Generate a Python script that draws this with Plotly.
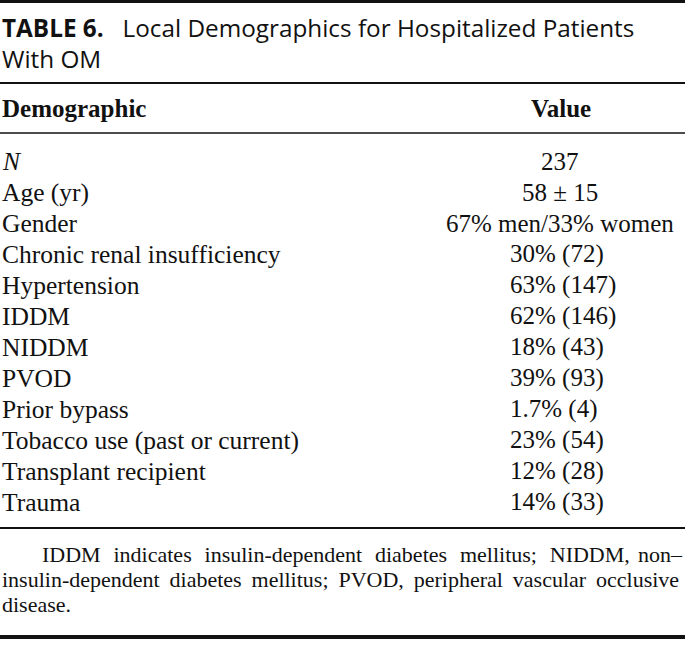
import plotly.graph_objects as go

# ---- data ----
title_label = "TABLE 6."
title_text = "Local Demographics for Hospitalized Patients"
title_text2 = "With OM"
col_headers = ["Demographic", "Value"]
demographics = [
    "<i>N</i>", "Age (yr)", "Gender", "Chronic renal insufficiency", "Hypertension",
    "IDDM", "NIDDM", "PVOD", "Prior bypass", "Tobacco use (past or current)",
    "Transplant recipient", "Trauma",
]
values = [
    "237", "58 ± 15", "67% men/33% women", "30% (72)", "63% (147)",
    "62% (146)", "18% (43)", "39% (93)", "1.7% (4)", "23% (54)",
    "12% (28)", "14% (33)",
]
footnote_lines = [
    "IDDM indicates insulin-dependent diabetes mellitus; NIDDM, non–",
    "insulin-dependent diabetes mellitus; PVOD, peripheral vascular occlusive",
    "disease.",
]

# ---- layout constants ----
W, H = 685, 646
SERIF = "Liberation Serif, Times New Roman, serif"
SANS = "Open Sans, Noto Sans, sans-serif"
INK = "#111111"
row0, step = 161, 31

fig = go.Figure()
fig.add_trace(go.Scatter(x=[0, W], y=[0, H], mode="markers",
                         marker=dict(opacity=0), hoverinfo="skip", showlegend=False))

ann = []
ann.append(dict(x=0, y=27, xanchor="left", yanchor="middle",
                text=f"<b>{title_label}</b>   {title_text}",
                font=dict(family=SANS, size=24.3, color=INK), showarrow=False))
ann.append(dict(x=0, y=58, xanchor="left", yanchor="middle",
                text=title_text2, font=dict(family=SANS, size=24.3, color=INK), showarrow=False))
ann.append(dict(x=0, y=108, xanchor="left", yanchor="middle",
                text=f"<b>{col_headers[0]}</b>",
                font=dict(family=SERIF, size=25, color=INK), showarrow=False))
ann.append(dict(x=561, y=108, xanchor="center", yanchor="middle",
                text=f"<b>{col_headers[1]}</b>",
                font=dict(family=SERIF, size=25, color=INK), showarrow=False))

for i, (d, v) in enumerate(zip(demographics, values)):
    y = row0 + i * step
    ann.append(dict(x=0, y=y, xanchor="left", yanchor="middle", text=d,
                    font=dict(family=SERIF, size=25.5, color=INK), showarrow=False))
    if "(" in v:
        ann.append(dict(x=508, y=y, xanchor="left", yanchor="middle", text=v,
                        font=dict(family=SERIF, size=25, color=INK), showarrow=False))
    else:
        ann.append(dict(x=560, y=y, xanchor="center", yanchor="middle", text=v,
                        font=dict(family=SERIF, size=25, color=INK), showarrow=False))

# approximate justified footnote: first line split so its last word is flush right
FOOT = dict(family=SERIF, size=22, color=INK)
l1_words = footnote_lines[0].split(" ")
ann.append(dict(x=40, y=554, xanchor="left", yanchor="middle",
                text=(" \u00a0\u200a").join(l1_words[:-1]), font=FOOT, showarrow=False))
ann.append(dict(x=W, y=554, xanchor="right", yanchor="middle",
                text=l1_words[-1], font=FOOT, showarrow=False))
ann.append(dict(x=0, y=579, xanchor="left", yanchor="middle",
                text=footnote_lines[1].replace(" ", " \u2009"), font=FOOT, showarrow=False))
ann.append(dict(x=0, y=604, xanchor="left", yanchor="middle",
                text=footnote_lines[2], font=FOOT, showarrow=False))

shapes = []
for y, w in [(1.5, 3), (83, 2), (133, 1.5), (528, 2), (637, 4)]:
    shapes.append(dict(type="line", x0=0, x1=W, y0=y, y1=y, xref="x", yref="y",
                       line=dict(color=INK, width=w)))

fig.update_layout(
    width=W, height=H, margin=dict(l=0, r=0, t=0, b=0),
    paper_bgcolor="white", plot_bgcolor="white",
    xaxis=dict(range=[0, W], visible=False, fixedrange=True),
    yaxis=dict(range=[H, 0], visible=False, fixedrange=True),
    annotations=ann, shapes=shapes, showlegend=False,
)
fig.write_html("out.html", config={"displayModeBar": False},
               post_script="document.body.style.margin='0';")
